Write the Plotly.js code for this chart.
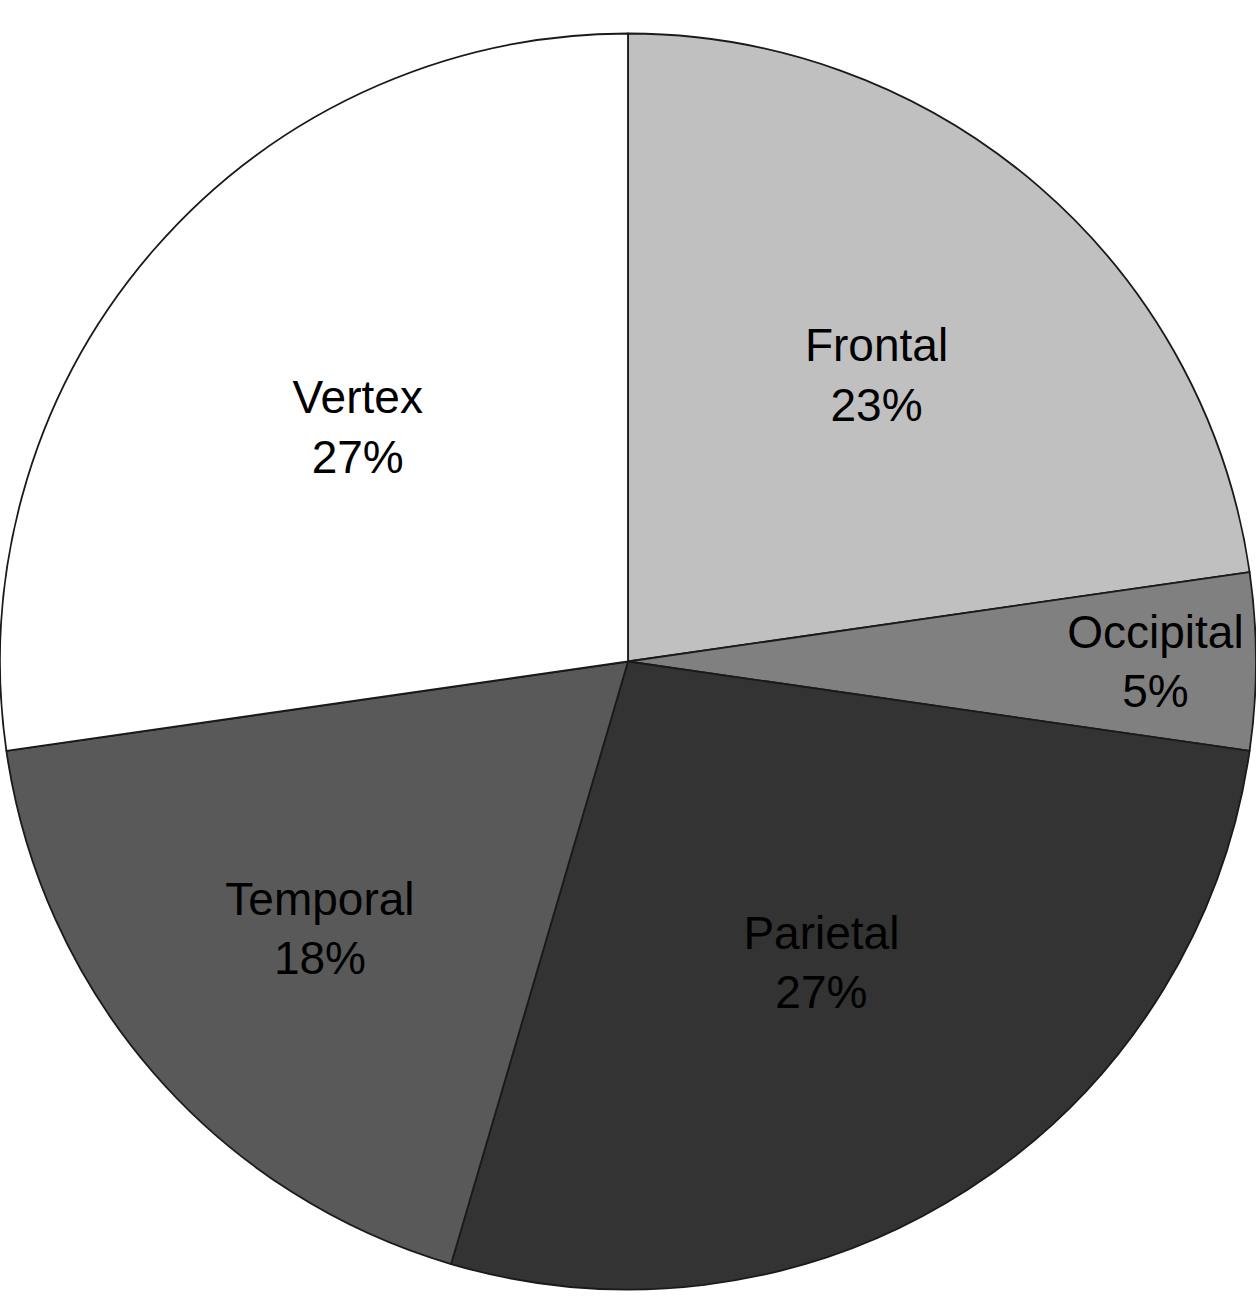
<!DOCTYPE html>
<html>
<head>
<meta charset="utf-8">
<script src="https://cdn.plot.ly/plotly-3.0.1.min.js"></script>
<style>html,body{margin:0;padding:0;background:#fff;}#chart{width:1256px;height:1315px;}</style>
</head>
<body>
<div id="chart"></div>
<script>
const regions = ["Frontal", "Occipital", "Parietal", "Temporal", "Vertex"];
const counts = [10, 2, 12, 8, 12];
const sliceColors = ["#c0c0c0", "#808080", "#333333", "#595959", "#ffffff"];

const trace = {
  type: "pie",
  labels: regions,
  values: counts,
  sort: false,
  direction: "clockwise",
  rotation: 0,
  marker: { colors: sliceColors, line: { color: "#1a1a1a", width: 1.8 } },
  texttemplate: "%{label}<br>%{percent:.0%}",
  textposition: "inside",
  insidetextorientation: "horizontal",
  insidetextfont: { family: "Liberation Sans, Arial, sans-serif", size: 46, color: "#000000" },
  hoverinfo: "none",
  showlegend: false,
  domain: { x: [0, 1], y: [0, 1] }
};

const layout = {
  width: 1256,
  height: 1315,
  margin: { l: 0, r: 0, t: 8, b: 0 },
  paper_bgcolor: "#ffffff",
  plot_bgcolor: "#ffffff",
  uniformtext: { mode: "show", minsize: 46 },
  showlegend: false
};

Plotly.newPlot("chart", [trace], layout, { displayModeBar: false, staticPlot: true });
</script>
</body>
</html>
